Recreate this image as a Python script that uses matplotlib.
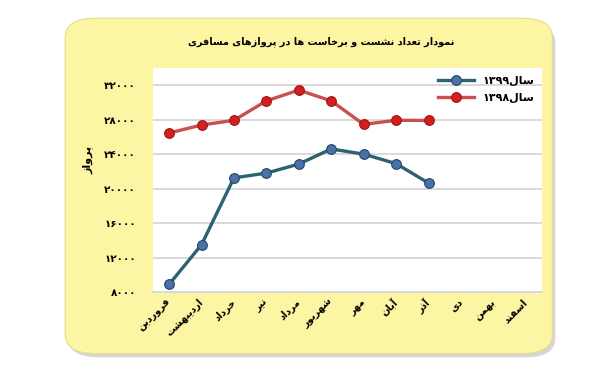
import re
import matplotlib.pyplot as plt
import matplotlib.transforms as mtransforms
from matplotlib.patches import FancyBboxPatch

# chart data (Persian months, two years of flights)
months = ["فروردین", "اردیبهشت", "خرداد", "تیر", "مرداد", "شهریور",
          "مهر", "آبان", "آذر", "دی", "بهمن", "اسفند"]
flights_1399 = [8900, 13500, 21250, 21800, 22850, 24600, 24000, 22900, 20650]
flights_1398 = [26450, 27370, 27920, 30170, 31420, 30170, 27450, 27920, 27900]
yticks = [8000, 12000, 16000, 20000, 24000, 28000, 32000]
title = "نمودار تعداد نشست و برخاست ها در پروازهای مسافری"
ylabel = "پرواز"
legend_1399 = "سال۱۳۹۹"
legend_1398 = "سال۱۳۹۸"

# minimal arabic/persian shaping: isolated, final, initial, medial
FORMS = {
    "ا": (0xFE8D, 0xFE8E, None, None), "آ": (0xFE81, 0xFE82, None, None),
    "ب": (0xFE8F, 0xFE90, 0xFE91, 0xFE92), "پ": (0xFB56, 0xFB57, 0xFB58, 0xFB59),
    "ت": (0xFE95, 0xFE96, 0xFE97, 0xFE98), "خ": (0xFEA5, 0xFEA6, 0xFEA7, 0xFEA8),
    "د": (0xFEA9, 0xFEAA, None, None), "ذ": (0xFEAB, 0xFEAC, None, None),
    "ر": (0xFEAD, 0xFEAE, None, None), "ز": (0xFEAF, 0xFEB0, None, None),
    "س": (0xFEB1, 0xFEB2, 0xFEB3, 0xFEB4), "ش": (0xFEB5, 0xFEB6, 0xFEB7, 0xFEB8),
    "ع": (0xFEC9, 0xFECA, 0xFECB, 0xFECC), "ف": (0xFED1, 0xFED2, 0xFED3, 0xFED4),
    "ق": (0xFED5, 0xFED6, 0xFED7, 0xFED8), "ل": (0xFEDD, 0xFEDE, 0xFEDF, 0xFEE0),
    "م": (0xFEE1, 0xFEE2, 0xFEE3, 0xFEE4), "ن": (0xFEE5, 0xFEE6, 0xFEE7, 0xFEE8),
    "ه": (0xFEE9, 0xFEEA, 0xFEEB, 0xFEEC), "و": (0xFEED, 0xFEEE, None, None),
    "ی": (0xFBFC, 0xFBFD, 0xFBFE, 0xFBFF),
}


def shape(text):
    out = []
    for i, ch in enumerate(text):
        if ch not in FORMS:
            out.append(ch)
            continue
        prev = text[i - 1] if i > 0 else ""
        nxt = text[i + 1] if i + 1 < len(text) else ""
        join_prev = prev in FORMS and FORMS[prev][2] is not None
        join_next = nxt in FORMS and FORMS[ch][2] is not None
        iso, fin, ini, med = FORMS[ch]
        if join_prev and join_next:
            out.append(chr(med))
        elif join_prev:
            out.append(chr(fin))
        elif join_next:
            out.append(chr(ini))
        else:
            out.append(chr(iso))
    return "".join(out)


def rtl(text):
    vis = shape(text)[::-1]
    # digit runs stay left to right
    return re.sub("[۰-۹0-9]+", lambda m: m.group(0)[::-1], vis)


def fa_digits(n):
    return str(n).translate(str.maketrans("0123456789", "۰۱۲۳۴۵۶۷۸۹"))


plt.rcParams['font.family'] = ['DejaVu Sans']

fig = plt.figure(figsize=(6.09, 3.81), dpi=100)
fig.patch.set_facecolor('white')

# yellow rounded panel with a soft shadow
shadow = FancyBboxPatch((0.112, 0.062), 0.80, 0.875, boxstyle="round,pad=0,rounding_size=0.05",
                        transform=fig.transFigure, facecolor='#bdbdbd', edgecolor='none',
                        alpha=0.6, zorder=-2)
panel = FancyBboxPatch((0.107, 0.072), 0.80, 0.88, boxstyle="round,pad=0,rounding_size=0.05",
                       transform=fig.transFigure, facecolor='#fcf6a4', edgecolor='#e6dc8a',
                       lw=0.8, zorder=-1)
fig.patches.extend([shadow, panel])

ax = fig.add_axes([0.251, 0.233, 0.639, 0.589])
ax.set_facecolor('white')

x = list(range(len(months)))
ax.plot(x[:len(flights_1399)], flights_1399, color='#2b6370', lw=2.4, marker='o', ms=7,
        mfc='#4a72a8', mec='#27466b', mew=0.8, label=rtl(legend_1399), zorder=3)
ax.plot(x[:len(flights_1398)], flights_1398, color='#c9504f', lw=2.4, marker='o', ms=7,
        mfc='#d21f1f', mec='#9e1515', mew=0.8, label=rtl(legend_1398), zorder=3)

ax.set_xlim(-0.5, len(months) - 0.5)
ax.set_ylim(8000, 34000)
ax.set_yticks(yticks)
ax.set_yticklabels([fa_digits(v) for v in yticks], fontsize=7.5, fontweight='bold')
ax.set_xticks(x)
ax.set_xticklabels([rtl(m) for m in months], rotation=45, ha='right', va='center',
                   rotation_mode='anchor', fontsize=7, fontweight='bold')
shift = mtransforms.ScaledTranslation(4 / 72, 0, fig.dpi_scale_trans)
for lab in ax.get_xticklabels():
    lab.set_transform(lab.get_transform() + shift)
ax.tick_params(length=0)
ax.tick_params(axis='y', pad=12)
ax.tick_params(axis='x', pad=6)
ax.grid(axis='y', color='#d9d9d9', lw=1.4)
ax.set_axisbelow(True)
for s in ['top', 'right', 'left']:
    ax.spines[s].set_visible(False)
ax.spines['bottom'].set_color('#d9d9d9')
ax.spines['bottom'].set_linewidth(1.4)

ax.legend(loc='upper right', frameon=False, prop={'weight': 'bold', 'size': 8},
          handlelength=3.2, borderaxespad=0.3, labelspacing=0.65)

fig.text(0.528, 0.892, rtl(title), ha='center', va='center', fontsize=7, fontweight='bold')
fig.text(0.145, 0.58, rtl(ylabel), ha='center', va='center', rotation=90, fontsize=8, fontweight='bold')

fig.savefig('out.png', dpi=100, facecolor=fig.get_facecolor())
